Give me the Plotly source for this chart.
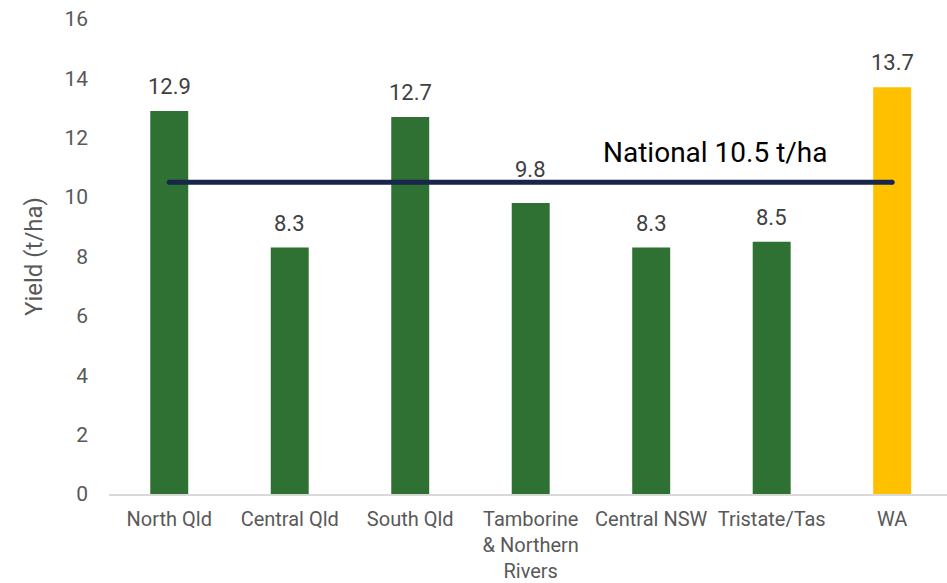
import plotly.graph_objects as go

categories = ["North Qld", "Central Qld", "South Qld", "Tamborine<br>& Northern<br>Rivers",
              "Central NSW", "Tristate/Tas", "WA"]
yields = [12.9, 8.3, 12.7, 9.8, 8.3, 8.5, 13.7]
bar_colors = ["#2F7033"] * 6 + ["#FFC000"]
label_lift = [0, 0, 0, 9, 0, 0, 0]
national = 10.5
national_label = "National 10.5 t/ha"

fig = go.Figure()
fig.add_trace(go.Bar(
    x=categories, y=yields, marker_color=bar_colors, marker_line_width=0,
    showlegend=False,
))
fig.add_trace(go.Scatter(
    x=[categories[0], categories[-1]], y=[national, national], mode="lines+markers",
    line=dict(color="#18264C", width=5), marker=dict(size=5, color="#18264C"),
    showlegend=False, hoverinfo="skip",
))
for c, v, lift in zip(categories, yields, label_lift):
    fig.add_annotation(x=c, y=v, xref="x", yref="y", text=f"{v:.1f}", showarrow=False,
                       yanchor="bottom", yshift=10 + lift,
                       font=dict(family="Roboto", size=22, color="#404040"))
fig.add_annotation(x=4.53, y=national, xref="x", yref="y", text=national_label,
                   showarrow=False, yshift=30,
                   font=dict(family="Roboto", size=28, color="#000000"))

fig.update_layout(
    width=947, height=583, margin=dict(l=109, r=0, t=19, b=87),
    paper_bgcolor="white", plot_bgcolor="white", bargap=0.685,
    font=dict(family="Roboto", color="#595959"),
)
fig.update_xaxes(range=[-0.5, 6.455], showline=True, linecolor="#D9D9D9", linewidth=1.5, ticks="",
                 tickfont=dict(family="Roboto", size=20, color="#595959"),
                 showgrid=False, ticklabelstandoff=6)
fig.update_yaxes(range=[0, 16], dtick=2, showgrid=False, zeroline=False, showline=False,
                 tickfont=dict(family="Roboto", size=21, color="#595959"),
                 title=dict(text="Yield (t/ha)", font=dict(family="Roboto", size=24, color="#595959"),
                            standoff=14),
                 ticklabelstandoff=20)
fig.write_html("out.html")
